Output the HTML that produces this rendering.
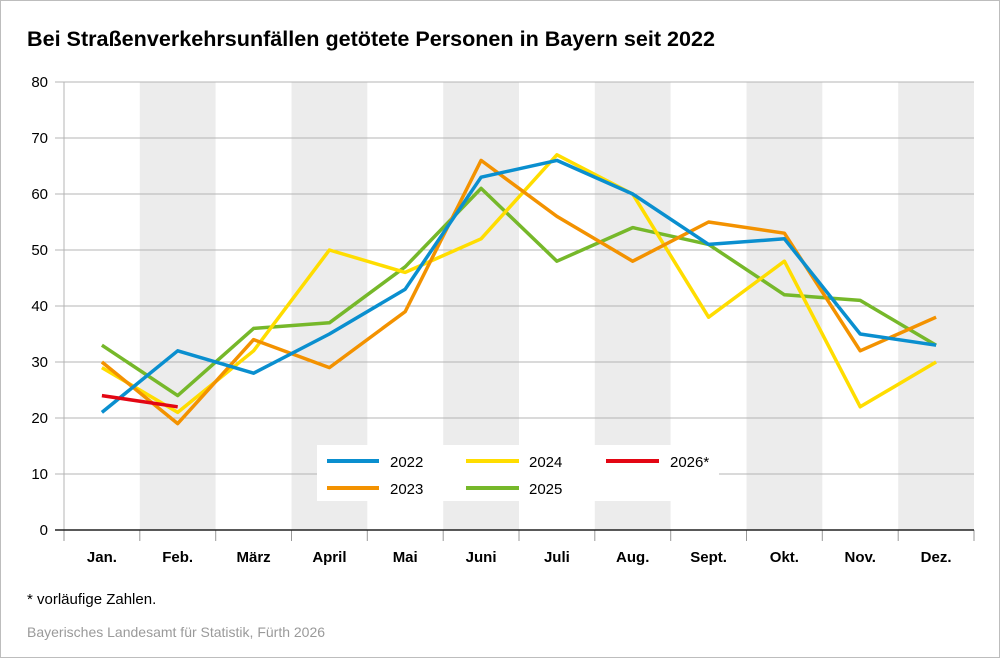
<!DOCTYPE html>
<html><head><meta charset="utf-8"><style>
body{margin:0;background:#fff}
svg{display:block;font-family:"Liberation Sans",Arial,sans-serif}
</style></head><body>
<svg width="1000" height="658" viewBox="0 0 1000 658" xmlns="http://www.w3.org/2000/svg">
<rect x="0.5" y="0.5" width="999" height="657" fill="#fff" stroke="#bdbdbd"/>
<text x="27" y="46" font-size="21" font-weight="bold" fill="#000" textLength="688" lengthAdjust="spacingAndGlyphs">Bei Straßenverkehrsunfällen getötete Personen in Bayern seit 2022</text>
<g fill="#ececec">
<rect x="139.8" y="82" width="75.8" height="448"/>
<rect x="291.5" y="82" width="75.8" height="448"/>
<rect x="443.2" y="82" width="75.8" height="448"/>
<rect x="594.8" y="82" width="75.8" height="448"/>
<rect x="746.5" y="82" width="75.8" height="448"/>
<rect x="898.2" y="82" width="75.8" height="448"/>
</g>
<g stroke="#b4b4b4" stroke-width="1">
<line x1="55" y1="82" x2="974" y2="82"/><line x1="55" y1="138" x2="974" y2="138"/>
<line x1="55" y1="194" x2="974" y2="194"/><line x1="55" y1="250" x2="974" y2="250"/>
<line x1="55" y1="306" x2="974" y2="306"/><line x1="55" y1="362" x2="974" y2="362"/>
<line x1="55" y1="418" x2="974" y2="418"/><line x1="55" y1="474" x2="974" y2="474"/>
<line x1="64" y1="82" x2="64" y2="530"/>
</g>
<rect x="317" y="445" width="402" height="56" fill="#fff"/>
<g stroke="#999" stroke-width="1">
<line x1="64" y1="530" x2="64" y2="541"/><line x1="139.8" y1="530" x2="139.8" y2="541"/>
<line x1="215.7" y1="530" x2="215.7" y2="541"/><line x1="291.5" y1="530" x2="291.5" y2="541"/>
<line x1="367.3" y1="530" x2="367.3" y2="541"/><line x1="443.2" y1="530" x2="443.2" y2="541"/>
<line x1="519" y1="530" x2="519" y2="541"/><line x1="594.8" y1="530" x2="594.8" y2="541"/>
<line x1="670.7" y1="530" x2="670.7" y2="541"/><line x1="746.5" y1="530" x2="746.5" y2="541"/>
<line x1="822.3" y1="530" x2="822.3" y2="541"/><line x1="898.2" y1="530" x2="898.2" y2="541"/>
<line x1="974" y1="530" x2="974" y2="541"/>
</g>
<line x1="55" y1="530" x2="974" y2="530" stroke="#222" stroke-width="1.5"/>
<g font-size="15" fill="#000" text-anchor="end">
<text x="48" y="87">80</text><text x="48" y="143">70</text><text x="48" y="199">60</text>
<text x="48" y="255">50</text><text x="48" y="311">40</text><text x="48" y="367">30</text>
<text x="48" y="423">20</text><text x="48" y="479">10</text><text x="48" y="535">0</text>
</g>
<g font-size="15" font-weight="bold" fill="#000" text-anchor="middle">
<text x="101.9" y="562">Jan.</text><text x="177.7" y="562">Feb.</text><text x="253.6" y="562">März</text>
<text x="329.4" y="562">April</text><text x="405.2" y="562">Mai</text><text x="481.1" y="562">Juni</text>
<text x="556.9" y="562">Juli</text><text x="632.7" y="562">Aug.</text><text x="708.6" y="562">Sept.</text>
<text x="784.4" y="562">Okt.</text><text x="860.2" y="562">Nov.</text><text x="936.1" y="562">Dez.</text>
</g>
<g fill="none" stroke-width="3.5" stroke-linejoin="round">
<polyline stroke="#76b82a" points="101.9,345.2 177.7,395.6 253.6,328.4 329.4,322.8 405.2,266.8 481.1,188.4 556.9,261.2 632.7,227.6 708.6,244.4 784.4,294.8 860.2,300.4 936.1,345.2"/>
<polyline stroke="#ffdd00" points="101.9,367.6 177.7,412.4 253.6,350.8 329.4,250 405.2,272.4 481.1,238.8 556.9,154.8 632.7,194 708.6,317.2 784.4,261.2 860.2,406.8 936.1,362"/>
<polyline stroke="#f39200" points="101.9,362 177.7,423.6 253.6,339.6 329.4,367.6 405.2,311.6 481.1,160.4 556.9,216.4 632.7,261.2 708.6,222 784.4,233.2 860.2,350.8 936.1,317.2"/>
<polyline stroke="#0a8fcf" points="101.9,412.4 177.7,350.8 253.6,373.2 329.4,334 405.2,289.2 481.1,177.2 556.9,160.4 632.7,194 708.6,244.4 784.4,238.8 860.2,334 936.1,345.2"/>
<polyline stroke="#e30613" points="101.9,395.6 177.7,406.8"/>
</g>
<g stroke-width="4">
<line x1="327" y1="461" x2="379" y2="461" stroke="#0a8fcf"/>
<line x1="327" y1="488" x2="379" y2="488" stroke="#f39200"/>
<line x1="466" y1="461" x2="519" y2="461" stroke="#ffdd00"/>
<line x1="466" y1="488" x2="519" y2="488" stroke="#76b82a"/>
<line x1="606" y1="461" x2="659" y2="461" stroke="#e30613"/>
</g>
<g font-size="15" fill="#000">
<text x="390" y="467">2022</text><text x="390" y="494">2023</text>
<text x="529" y="467">2024</text><text x="529" y="494">2025</text>
<text x="670" y="467">2026*</text>
</g>
<text x="27" y="604" font-size="15" fill="#000">* vorläufige Zahlen.</text>
<text x="27" y="637" font-size="14" fill="#9a9a9a">Bayerisches Landesamt für Statistik, Fürth 2026</text>
</svg>
</body></html>
